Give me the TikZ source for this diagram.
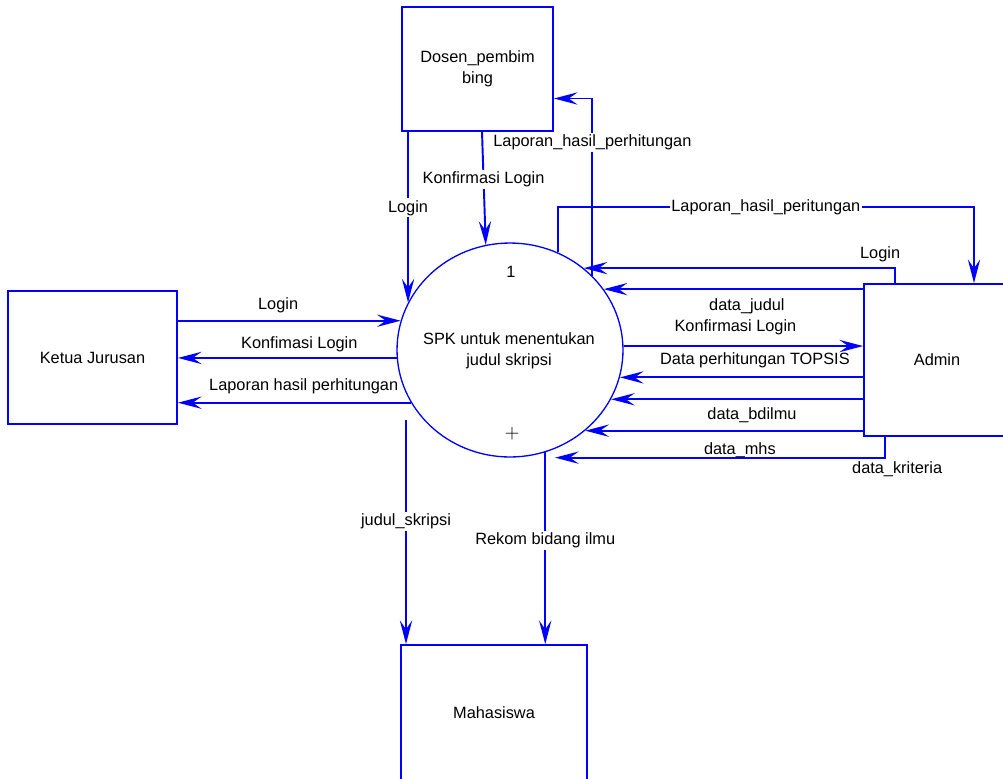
\documentclass[tikz,border=0pt]{standalone}
\usepackage{fontspec}
\setmainfont{Liberation Sans}
\usetikzlibrary{shapes.geometric,arrows.meta,positioning}
\definecolor{dfdblue}{HTML}{0000FF}
\tikzstyle{entity} = [rectangle, draw=dfdblue, line width=1pt, inner sep=0pt, align=center]
\tikzstyle{process} = [ellipse, draw=dfdblue, line width=0.75pt, inner sep=0pt,
	minimum width=4.52cm, minimum height=4.28cm]
\tikzstyle{flow} = [draw=dfdblue, line width=1.1pt, -{Stealth[length=13.5pt, width=7pt, inset=5pt]}]
\tikzstyle{lbl} = [inner sep=1pt, text=black]
\tikzstyle{cut} = [lbl, fill=white]

\begin{document}
\begin{tikzpicture}[x=0.02cm, y=-0.02cm, font=\fontsize{9.3}{12}\selectfont]
	\useasboundingbox (0,0) rectangle (1003,778);
	\clip (0,0) rectangle (1003,778);

	% entitas luar
	\node[entity, minimum width=3.02cm, minimum height=2.48cm] (dosen) at (477.5,69) {Dosen\_pembim\\bing};
	\node[entity, minimum width=3.38cm, minimum height=2.66cm] (ketua) at (92.5,357.5) {Ketua Jurusan};
	\node[entity, minimum width=2.92cm, minimum height=3.04cm] (admin) at (937,360) {Admin};
	\node[entity, minimum width=3.72cm, minimum height=2.72cm] (mhs) at (494,713) {Mahasiswa};

	% proses
	\node[process] (proc) at (510,350) {};
	\node (procnum) at (511,272) {1};
	\node[align=center] (proctxt) at (509,351) {SPK untuk menentukan\\judul skripsi};
	\node (procplus) at (512,434) {\fontsize{11}{11}\selectfont$+$};

	% Dosen_pembimbing
	\draw[flow] (dosen.south -| proc.155.7) -- node[cut, pos=0.445] {Login} (proc.155.7);
	\draw[flow] ([xshift=0.09cm]dosen.south) -- node[cut, pos=0.42] {Konfirmasi Login} (proc.103);
	\draw[flow] (proc.42) |- node[cut, pos=0.376] {Laporan\_hasil\_perhitungan} ([yshift=-0.59cm]dosen.east);

	% Admin
	\coordinate (bendA) at (974,207);
	\draw[flow] (proc.64) |- node[cut, pos=0.75] {Laporan\_hasil\_peritungan} (bendA) -- (bendA |- admin.north);
	\draw[flow] ([xshift=0.64cm]admin.north west) |- node[lbl, pos=0.5, xshift=-0.30cm, yshift=0.28cm] {Login} (proc.48);
	\draw[flow] (admin.west |- proc.33) -- node[lbl, pos=0.448, yshift=-0.34cm] {data\_judul} (proc.33);
	\draw[flow] (proc.2) -- node[lbl, pos=0.467, yshift=0.38cm] {Konfirmasi Login} (admin.west |- proc.2);
	\draw[flow] (admin.west |- proc.-14.4) -- node[lbl, pos=0.445, yshift=0.34cm] {Data perhitungan TOPSIS} (proc.-14.4);
	\draw[flow] (admin.west |- proc.-26) -- (proc.-26);
	\draw[flow] (admin.west |- proc.-47.7) -- node[lbl, pos=0.40, yshift=0.30cm] {data\_bdilmu} (proc.-47.7);
	\draw[flow] ([xshift=0.44cm]admin.south west) |- node[lbl, pos=0.72, yshift=0.15cm] {data\_mhs}
		node[lbl, pos=0.5, xshift=0.24cm, yshift=-0.24cm] {data\_kriteria} ([xshift=0.9cm]proc.south);

	% Ketua Jurusan
	\draw[flow] (ketua.east |- proc.165.6) -- node[lbl, pos=0.45, yshift=0.30cm] {Login} (proc.165.6);
	\draw[flow] (proc.-176.5) -- node[lbl, pos=0.445, yshift=0.28cm] {Konfimasi Login} (ketua.east |- proc.-176.5);
	\draw[flow] (proc.-152.8) -- node[lbl, pos=0.46, yshift=0.32cm] {Laporan hasil perhitungan} (ketua.east |- proc.-152.8);

	% Mahasiswa
	\coordinate (judstart) at (406,420);
	\draw[flow] (judstart) -- node[cut, pos=0.453] {judul\_skripsi} (judstart |- mhs.north);
	\draw[flow] (proc.-71) -- node[cut, pos=0.46] {Rekom bidang ilmu} (proc.-71 |- mhs.north);
\end{tikzpicture}
\end{document}
